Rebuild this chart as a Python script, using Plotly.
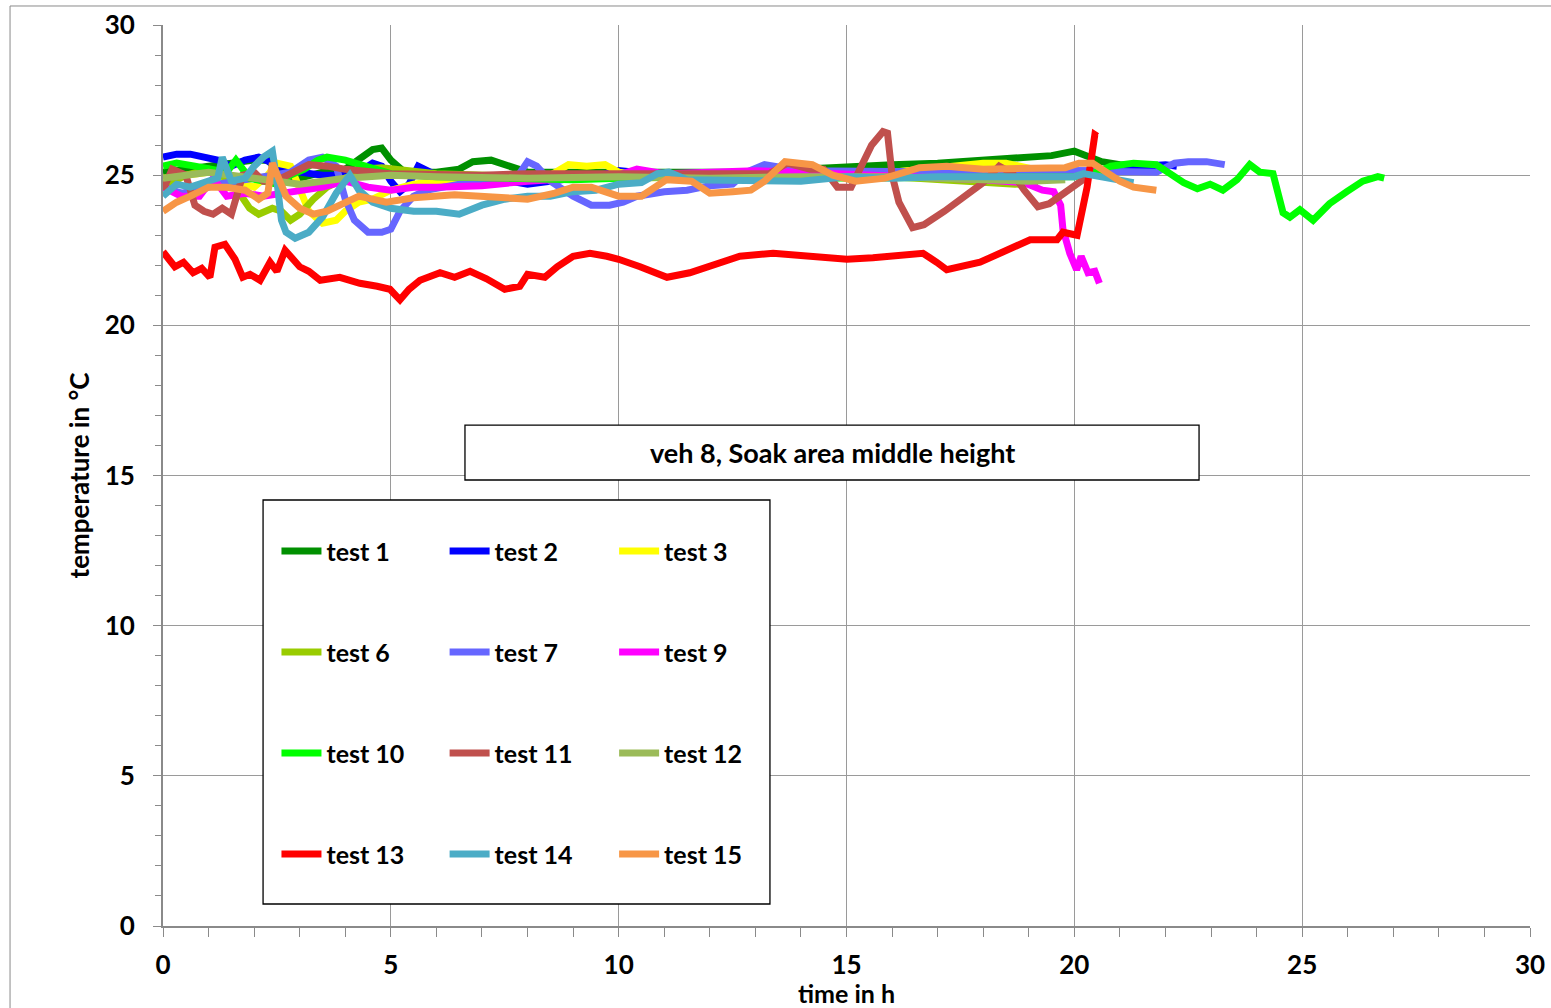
import plotly.graph_objects as go

# ---------------- data ----------------
t1 = [0, 0.5, 1.0, 1.5, 2.0, 2.3, 2.6, 3.0, 3.5, 4.0, 4.4, 4.6, 4.8, 5.0, 5.3, 6.0, 6.5, 6.8, 7.2, 7.6, 8.0, 9.0, 10.0, 11.0, 12.0, 13.0, 14.0, 15.0, 16.0, 17.0, 17.5, 18.0, 18.8, 19.5, 20.0, 20.3, 20.6, 21.0, 21.4]
T1 = [25.1, 25.2, 25.3, 25.4, 25.5, 25.5, 25.0, 24.9, 25.1, 25.2, 25.6, 25.85, 25.9, 25.5, 25.1, 25.1, 25.2, 25.45, 25.5, 25.3, 25.1, 25.1, 25.1, 25.15, 25.1, 25.1, 25.2, 25.3, 25.35, 25.4, 25.45, 25.5, 25.55, 25.65, 25.8, 25.65, 25.45, 25.35, 25.3]

t2 = [0, 0.3, 0.6, 0.9, 1.2, 1.5, 1.8, 2.1, 2.4, 2.7, 3.0, 3.5, 4.0, 4.4, 4.6, 4.8, 5.0, 5.2, 5.4, 5.6, 6.0, 7.0, 7.6, 8.0, 8.4, 9.0, 9.6, 10.0, 11.0, 12.0, 14.0, 16.0, 18.0, 19.5, 20.5, 21.0, 21.5, 22.0, 22.25]
T2 = [25.6, 25.7, 25.7, 25.6, 25.5, 25.3, 25.5, 25.6, 25.4, 25.2, 25.1, 25.0, 25.0, 25.2, 25.4, 25.3, 24.8, 24.45, 24.7, 25.3, 25.0, 24.9, 24.8, 24.7, 24.8, 24.9, 25.0, 25.15, 25.0, 25.0, 25.05, 25.1, 25.1, 25.1, 25.15, 25.25, 25.3, 25.35, 25.3]

t3 = [0, 0.5, 1.0, 1.5, 2.0, 2.3, 2.5, 2.8, 3.0, 3.2, 3.5, 3.8, 4.0, 4.3, 4.6, 5.0, 5.5, 6.0, 7.0, 8.0, 8.5, 8.9, 9.3, 9.7, 10.0, 10.5, 12.0, 14.0, 16.0, 17.5, 18.0, 18.5, 19.0, 19.4]
T3 = [24.9, 25.0, 25.1, 24.9, 24.6, 25.0, 25.4, 25.3, 24.6, 23.8, 23.4, 23.5, 23.8, 24.1, 24.2, 24.5, 24.7, 24.8, 24.9, 24.95, 25.0, 25.35, 25.3, 25.35, 25.1, 25.0, 25.05, 25.1, 25.1, 25.3, 25.4, 25.4, 25.2, 25.1]

t6 = [0, 0.5, 1.0, 1.5, 1.9, 2.1, 2.4, 2.6, 2.8, 3.0, 3.3, 3.6, 4.0, 4.4, 4.8, 5.2, 6.0, 8.0, 10.0, 12.0, 14.0, 16.0, 17.0, 18.0, 18.7, 19.2]
T6 = [24.6, 25.0, 25.2, 24.8, 23.9, 23.7, 23.9, 23.8, 23.5, 23.7, 24.2, 24.6, 24.9, 25.2, 25.25, 25.2, 25.05, 24.95, 24.9, 24.95, 25.0, 24.95, 24.85, 24.75, 24.7, 24.75]

t7 = [0, 0.4, 0.8, 1.2, 1.6, 2.0, 2.4, 2.8, 3.2, 3.5, 3.8, 4.0, 4.2, 4.5, 4.8, 5.0, 5.2, 5.5, 5.8, 6.5, 7.2, 7.8, 8.0, 8.2, 8.5, 9.0, 9.4, 9.8, 10.1, 10.4, 11.0, 11.5, 12.0, 12.5, 12.8, 13.2, 14.0, 16.0, 18.0, 20.0, 21.0, 21.8, 22.2, 22.5, 22.9, 23.3]
T7 = [24.6, 24.4, 24.5, 24.7, 24.8, 24.9, 25.0, 25.1, 25.5, 25.6, 25.3, 24.2, 23.5, 23.1, 23.1, 23.2, 23.8, 24.3, 24.5, 24.7, 24.7, 25.0, 25.45, 25.3, 24.8, 24.3, 24.0, 24.0, 24.1, 24.3, 24.45, 24.5, 24.65, 24.7, 25.1, 25.35, 25.15, 25.1, 25.1, 25.15, 25.1, 25.1, 25.4, 25.45, 25.45, 25.35]

t9 = [0, 0.4, 0.8, 1.1, 1.4, 1.8, 2.2, 2.6, 3.0, 3.5, 4.0, 4.5, 5.0, 5.5, 6.0, 7.0, 8.0, 9.0, 10.0, 10.4, 11.0, 12.0, 13.0, 14.0, 15.0, 16.0, 17.0, 18.0, 18.9, 19.3, 19.55, 19.7, 19.75, 19.9, 20.05, 20.15, 20.3, 20.45, 20.55]
T9 = [24.6, 24.3, 24.3, 24.9, 24.3, 24.4, 24.3, 24.4, 24.5, 24.6, 24.8, 24.6, 24.5, 24.6, 24.6, 24.65, 24.8, 24.9, 25.0, 25.2, 25.05, 25.1, 25.15, 25.1, 25.05, 25.0, 24.9, 24.85, 24.75, 24.5, 24.45, 24.0, 23.2, 22.4, 21.85, 22.3, 21.75, 21.8, 21.4]

t10 = [0, 0.3, 0.7, 1.0, 1.4, 1.6, 1.9, 2.2, 2.5, 2.8, 3.1, 3.4, 3.6, 4.0, 4.5, 5.0, 6.0, 7.0, 8.0, 9.0, 10.0, 11.0, 12.0, 13.0, 14.0, 15.0, 16.0, 17.0, 18.0, 19.0, 20.0, 20.5, 20.8, 21.3, 21.8, 22.1, 22.4, 22.7, 22.98, 23.26, 23.57, 23.85, 24.07, 24.36, 24.58, 24.73, 24.95, 25.24, 25.6, 25.98, 26.33, 26.66, 26.8]
T10 = [25.3, 25.4, 25.3, 25.2, 25.1, 25.5, 24.9, 24.8, 24.7, 25.0, 25.2, 25.5, 25.6, 25.5, 25.3, 25.05, 24.95, 24.9, 24.9, 24.85, 24.9, 24.95, 24.9, 24.85, 24.9, 24.9, 24.9, 24.95, 24.95, 24.95, 24.95, 25.1, 25.3, 25.4, 25.35, 25.05, 24.75, 24.55, 24.7, 24.5, 24.85, 25.35, 25.1, 25.05, 23.75, 23.6, 23.85, 23.5, 24.05, 24.45, 24.8, 24.95, 24.9]

t11 = [0, 0.2, 0.5, 0.7, 0.9, 1.1, 1.3, 1.5, 1.75, 2.0, 2.2, 2.4, 2.6, 2.9, 3.2, 3.6, 4.0, 5.0, 6.0, 7.0, 8.0, 9.0, 10.0, 11.0, 12.0, 12.8, 13.3, 13.7, 14.2, 14.5, 14.8, 15.1, 15.25, 15.55, 15.8, 15.9, 16.0, 16.15, 16.45, 16.7, 17.15, 17.5, 18.0, 18.35, 18.65, 18.9, 19.2, 19.45, 19.75, 20.1, 20.3]
T11 = [24.5, 25.2, 25.0, 24.0, 23.8, 23.7, 23.9, 23.7, 25.0, 25.1, 24.8, 24.8, 24.9, 25.1, 25.35, 25.3, 25.2, 25.05, 25.0, 25.0, 25.05, 25.05, 25.05, 25.05, 25.05, 25.1, 25.05, 25.4, 25.2, 25.2, 24.6, 24.6, 25.1, 26.0, 26.45, 26.4, 25.0, 24.1, 23.25, 23.35, 23.8, 24.2, 24.75, 25.3, 25.05, 24.5, 23.95, 24.05, 24.4, 24.75, 24.95]

t12 = [0, 1, 2, 3, 4, 5, 6, 8, 10, 12, 14, 16, 18, 19, 19.8]
T12 = [24.9, 25.1, 24.9, 24.7, 24.9, 25.0, 24.95, 24.9, 24.95, 24.9, 24.95, 24.95, 24.85, 24.8, 24.85]

t13 = [0, 0.26, 0.45, 0.66, 0.85, 1.03, 1.14, 1.36, 1.58, 1.75, 1.91, 2.13, 2.35, 2.5, 2.68, 3.0, 3.2, 3.45, 3.88, 4.32, 4.7, 4.98, 5.2, 5.4, 5.64, 6.08, 6.4, 6.74, 7.1, 7.5, 7.83, 8.0, 8.38, 8.65, 9.0, 9.37, 9.74, 10.0, 10.47, 11.06, 11.56, 12.29, 12.66, 13.39, 14.13, 15.01, 15.58, 16.68, 16.98, 17.2, 17.93, 18.65, 19.03, 19.62, 19.75, 20.06, 20.28, 20.45, 20.5]
T13 = [22.45, 21.95, 22.1, 21.75, 21.9, 21.6, 22.6, 22.7, 22.2, 21.6, 21.7, 21.5, 22.1, 21.8, 22.5, 21.95, 21.8, 21.5, 21.6, 21.4, 21.3, 21.2, 20.85, 21.2, 21.5, 21.75, 21.6, 21.8, 21.55, 21.2, 21.3, 21.7, 21.6, 21.95, 22.3, 22.4, 22.3, 22.2, 21.95, 21.6, 21.75, 22.1, 22.3, 22.4, 22.3, 22.2, 22.25, 22.4, 22.1, 21.85, 22.1, 22.6, 22.85, 22.85, 23.1, 23.0, 24.6, 26.35, 26.3]

t14 = [0, 0.3, 0.6, 1.0, 1.2, 1.3, 1.5, 1.8, 2.0, 2.2, 2.4, 2.5, 2.6, 2.7, 2.9, 3.2, 3.5, 3.8, 4.0, 4.1, 4.3, 4.6, 5.0, 5.5, 6.0, 6.5, 7.0, 7.5, 8.0, 8.5, 9.0, 9.5, 10.0, 10.5, 10.85, 11.1, 11.5, 12.0, 13.0, 14.0, 15.0, 16.0, 17.0, 18.0, 19.0, 20.0, 20.2, 20.8, 21.3]
T14 = [24.3, 24.7, 24.6, 24.8, 24.9, 25.6, 24.8, 24.9, 25.3, 25.6, 25.8, 24.8, 23.5, 23.1, 22.9, 23.1, 23.6, 24.4, 24.8, 25.0, 24.5, 24.1, 23.9, 23.8, 23.8, 23.7, 24.0, 24.2, 24.3, 24.3, 24.45, 24.5, 24.7, 24.75, 25.05, 25.1, 24.85, 24.85, 24.8, 24.8, 24.95, 24.9, 24.95, 24.95, 24.95, 24.95, 25.05, 24.9, 24.75]

t15 = [0, 0.3, 0.6, 1.0, 1.4, 1.8, 2.1, 2.3, 2.4, 2.5, 2.7, 3.0, 3.3, 3.6, 4.0, 4.3, 4.9, 5.5, 6.4, 7.0, 7.5, 8.0, 8.6, 9.0, 9.4, 10.0, 10.5, 11.05, 11.6, 12.0, 12.5, 12.9, 13.2, 13.65, 14.25, 14.7, 15.2, 15.85, 16.6, 17.2, 18.0, 19.0, 19.8, 20.1, 20.4, 20.7, 21.0, 21.3, 21.8]
T15 = [23.8, 24.1, 24.3, 24.6, 24.6, 24.5, 24.2, 24.4, 25.4, 25.0, 24.3, 23.9, 23.7, 23.8, 24.1, 24.3, 24.1, 24.25, 24.35, 24.3, 24.2, 24.2, 24.4, 24.6, 24.6, 24.3, 24.3, 24.85, 24.8, 24.4, 24.45, 24.5, 24.8, 25.45, 25.35, 25.0, 24.8, 24.9, 25.25, 25.3, 25.2, 25.2, 25.25, 25.4, 25.4, 25.1, 24.8, 24.6, 24.5]

names = ["test 1", "test 2", "test 3", "test 6", "test 7", "test 9",
         "test 10", "test 11", "test 12", "test 13", "test 14", "test 15"]
colors = ["#009000", "#0000FF", "#FFFF00", "#99CC00", "#6666FF", "#FF00FF",
          "#00FF00", "#C0504D", "#9BBB59", "#FF0000", "#4BACC6", "#F79646"]
xs = [t1, t2, t3, t6, t7, t9, t10, t11, t12, t13, t14, t15]
ys = [T1, T2, T3, T6, T7, T9, T10, T11, T12, T13, T14, T15]

x_ticks = [0, 5, 10, 15, 20, 25, 30]
y_ticks = [0, 5, 10, 15, 20, 25, 30]

FONT = "Lato, 'Open Sans', sans-serif"

fig = go.Figure()
legend_ids = ["legend", "legend2", "legend3"]
for i, (n, c, x, y) in enumerate(zip(names, colors, xs, ys)):
    fig.add_trace(go.Scatter(
        x=x, y=y, name=n, mode="lines",
        line=dict(color=c, width=7),
        legend=legend_ids[i % 3], legendgroup=n,
    ))

leg_common = dict(
    font=dict(family=FONT, size=25, color="black", weight="bold"),
    bgcolor="rgba(0,0,0,0)", borderwidth=0,
    xanchor="left", yanchor="top", tracegroupgap=65.5,
    itemwidth=40,
)
lx = [0.083, 0.206, 0.330]
ly = 0.4415
fig.update_layout(
    legend=dict(x=lx[0], y=ly, **leg_common),
    legend2=dict(x=lx[1], y=ly, **leg_common),
    legend3=dict(x=lx[2], y=ly, **leg_common),
)

axis_font = dict(family=FONT, size=26, color="black", weight="bold")
fig.update_layout(
    width=1551, height=1008,
    margin=dict(l=163, r=21, t=25, b=82, autoexpand=False),
    paper_bgcolor="white", plot_bgcolor="white",
    showlegend=True,
    xaxis=dict(
        range=[0, 30], tickvals=x_ticks, ticktext=[str(v) for v in x_ticks],
        showgrid=True, gridcolor="#9a9a9a", gridwidth=1,
        showline=True, linecolor="#8a8a8a", linewidth=2,
        ticks="outside", ticklen=9, tickcolor="#8a8a8a", tickwidth=1,
        minor=dict(dtick=1, ticks="outside", ticklen=9, tickcolor="#8a8a8a", showgrid=False),
        tickfont=axis_font, ticklabelstandoff=6, zeroline=False, automargin=False,
        title=dict(text="time in h", font=dict(family=FONT, size=25, color="black", weight="bold"), standoff=5),
    ),
    yaxis=dict(
        range=[0, 30], tickvals=y_ticks, ticktext=[str(v) for v in y_ticks],
        showgrid=True, gridcolor="#9a9a9a", gridwidth=1,
        showline=True, linecolor="#8a8a8a", linewidth=2,
        ticks="outside", ticklen=8, tickcolor="#8a8a8a", tickwidth=1,
        minor=dict(dtick=1, ticks="outside", ticklen=6, tickcolor="#8a8a8a", showgrid=False),
        tickfont=axis_font, ticklabelstandoff=13, zeroline=False, automargin=False,
        title=dict(text="temperature in °C", font=axis_font, standoff=8),
    ),
    xaxis2=dict(range=[0, 30], overlaying="x", anchor="y", side="bottom",
                dtick=1, ticks="inside", ticklen=9, tickcolor="#8a8a8a",
                showticklabels=False, showgrid=False, showline=False, zeroline=False),
    yaxis2=dict(range=[0, 30], overlaying="y", anchor="x", side="left",
                dtick=1, ticks="inside", ticklen=7, tickcolor="#8a8a8a",
                showticklabels=False, showgrid=False, showline=False, zeroline=False),
)

# chart-area frame, title box and legend box
fig.add_shape(type="rect", xref="paper", yref="paper",
              x0=-0.1119, x1=1.05, y0=-0.12, y1=1.0211,
              line=dict(color="#8a8a8a", width=1), layer="below")
fig.add_shape(type="rect", xref="paper", yref="paper",
              x0=0.0732, x1=0.444, y0=0.0244, y1=0.4728,
              line=dict(color="black", width=1.3), fillcolor="white", layer="above")
fig.add_shape(type="rect", xref="paper", yref="paper",
              x0=0.2209, x1=0.7579, y0=0.495, y1=0.556,
              line=dict(color="black", width=1.3), fillcolor="white", layer="above")
fig.add_annotation(x=0.4894, y=0.5255, xref="paper", yref="paper",
                   text="veh 8, Soak area middle height", showarrow=False,
                   font=dict(family=FONT, size=27, color="black", weight="bold"))

fig.write_html("out.html")
